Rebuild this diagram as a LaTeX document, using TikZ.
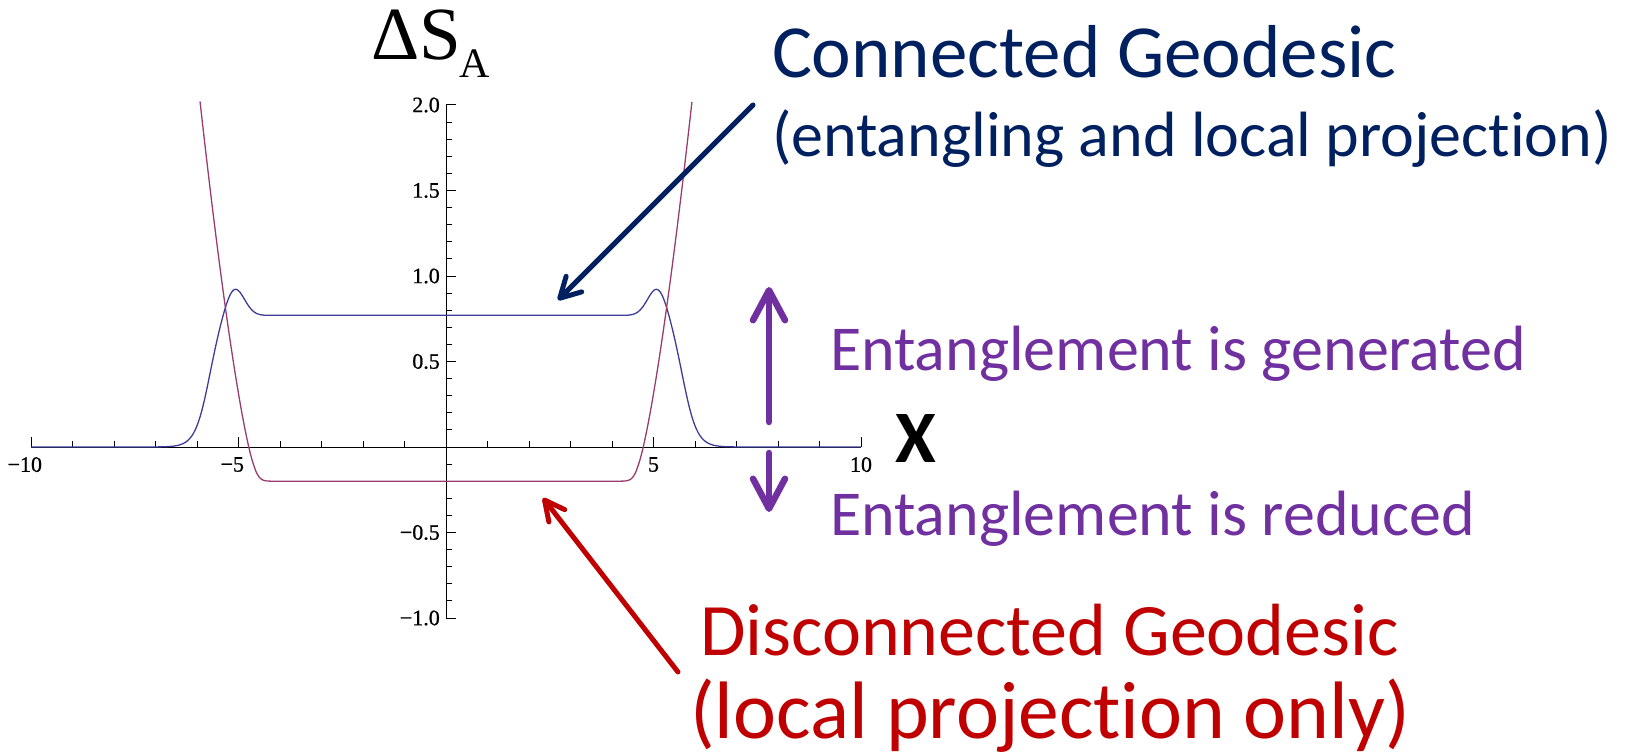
\documentclass[tikz,border=0pt]{standalone}
\usepackage{fontspec}
\setmainfont{Carlito}[Ligatures=NoCommon]
\newfontfamily\plotfont{Liberation Serif}
\newfontfamily\tickfont{Liberation Serif}[FakeBold=0.8]
\usetikzlibrary{arrows.meta}

\definecolor{geonavy}{HTML}{002060}
\definecolor{geored}{HTML}{C00000}
\definecolor{entpurple}{HTML}{7030A0}
\definecolor{curveblue}{rgb}{0.24,0.24,0.6}
\definecolor{curvered}{rgb}{0.6,0.24,0.443}

\begin{document}
\begin{tikzpicture}[x=1pt,y=-1pt,
  declare function={
    sgm(\u)=1/(1+exp(min(max((\u-5.72)/0.17,-9),9)));
    qq(\u)=(\u-5.1)/0.33;
    bl(\x)=0.77*sgm(abs(\x))+0.17*exp(max(0-qq(abs(\x))*qq(abs(\x)),-9));
    sp(\u)=(\u-4.5>0.7) ? (\u-4.5) : 0.08*ln(1+exp(max(min((\u-4.5)/0.08,9),-9)));
    rd(\x)=-0.2+1.35*pow(sp(abs(\x)),1.4);
    px(\x)=446+41.5*\x;
    py(\y)=447-171*\y;
  },
  txt/.style={anchor=base west, inner sep=0pt, outer sep=0pt},
  axisline/.style={line width=1pt, black},
  ticklbl/.style={inner sep=0pt, font=\tickfont\fontsize{22}{24}\selectfont},
  curve/.style={line width=1.3pt, line join=round},
  pointer/.style={line width=5pt, line cap=round},
]
\useasboundingbox (0,0) rectangle (1629,754);

% axes
\draw[axisline] ({px(-10)},447) -- ({px(10)},447);
\draw[axisline] (446,{py(-1)}) -- (446,{py(2)});

% x ticks (minor every 1, major every 5)
\foreach \i in {-10,...,-1,1,2,...,10}{
  \pgfmathtruncatemacro{\m}{mod(abs(\i),5)==0 ? 1 : 0}
  \ifnum\m=1
    \draw[axisline] ({px(\i)},447) -- ({px(\i)},437);
  \else
    \draw[axisline] ({px(\i)},447) -- ({px(\i)},441);
  \fi
}
% y ticks (minor every 0.1, major every 0.5)
\foreach \j in {-10,...,-1,1,2,...,20}{
  \pgfmathtruncatemacro{\m}{mod(abs(\j),5)==0 ? 1 : 0}
  \ifnum\m=1
    \draw[axisline] (446,{py(\j/10)}) -- (456,{py(\j/10)});
  \else
    \draw[axisline] (446,{py(\j/10)}) -- (452,{py(\j/10)});
  \fi
}

% tick labels
\foreach \v/\t [count=\k] in {2.0/2.0, 1.5/1.5, 1.0/1.0, 0.5/0.5, -0.5/{−0.5}, -1.0/{−1.0}}
  \node[ticklbl, anchor=east] (ylab\k) at (440,{py(\v)}) {\t};
\foreach \v/\t [count=\k] in {-10/{\llap{−}10}, -5/{\llap{−}5}, 5/5, 10/10}
  \node[ticklbl, anchor=north] (xlab\k) at ({px(\v)},457) {\t};

% curves
\draw[curve, curveblue] plot[domain=-10:10, samples=801] ({px(\x)},{py(bl(\x))});
\draw[curve, curvered] plot[domain=-5.927:5.927, samples=801] ({px(\x)},{py(rd(\x))});

% axis titles
\node[txt, font=\plotfont\fontsize{75}{80}\selectfont] (dS) at (371,60) {ΔS};
\node[txt, font=\plotfont\fontsize{42}{45}\selectfont] (dSsub) at (459,78) {A};
\node[txt, font=\bfseries\fontsize{74}{80}\selectfont] (xaxis) at (895,462) {X};

% annotations
\node[txt, text=geonavy, font=\fontsize{75}{80}\selectfont] (conn) at (772,78) {Connected Geodesic};
\node[txt, text=geonavy, font=\fontsize{64}{70}\selectfont] (conn2) at (772,157) {(entangling and local projection)};
\node[txt, text=entpurple, font=\fontsize{64}{70}\selectfont] (gen) at (830,370) {Entanglement is generated};
\node[txt, text=entpurple, font=\fontsize{64}{70}\selectfont] (rdc) at (830,535) {Entanglement is reduced};
\node[txt, text=geored, font=\fontsize{74}{80}\selectfont] (disc) at (700,655) {Disconnected Geodesic};
\node[txt, text=geored, font=\fontsize{81.5}{88}\selectfont] (disc2) at (690,738) {(local projection only)};

% pointer arrows
\coordinate (navyA) at (753,105);
\coordinate (navyB) at (558,300);
\coordinate (redA) at (678,672);
\coordinate (redB) at (543,498);
\coordinate (upA) at (769,422);
\coordinate (upB) at (769,287);
\coordinate (dnA) at (769,453);
\coordinate (dnB) at (769,512);

\draw[pointer, geonavy, -{Straight Barb[round,length=20pt,width=22pt]}] (navyA) -- (navyB);
\draw[pointer, geored, -{Straight Barb[round,length=20pt,width=20pt]}] (redA) -- (redB);
\draw[pointer, entpurple, line width=6.5pt, -{Straight Barb[round,length=30pt,width=32pt]}] (upA) -- (upB);
\draw[pointer, entpurple, line width=6.5pt, -{Straight Barb[round,length=30pt,width=32pt]}] (dnA) -- (dnB);
\end{tikzpicture}
\end{document}
